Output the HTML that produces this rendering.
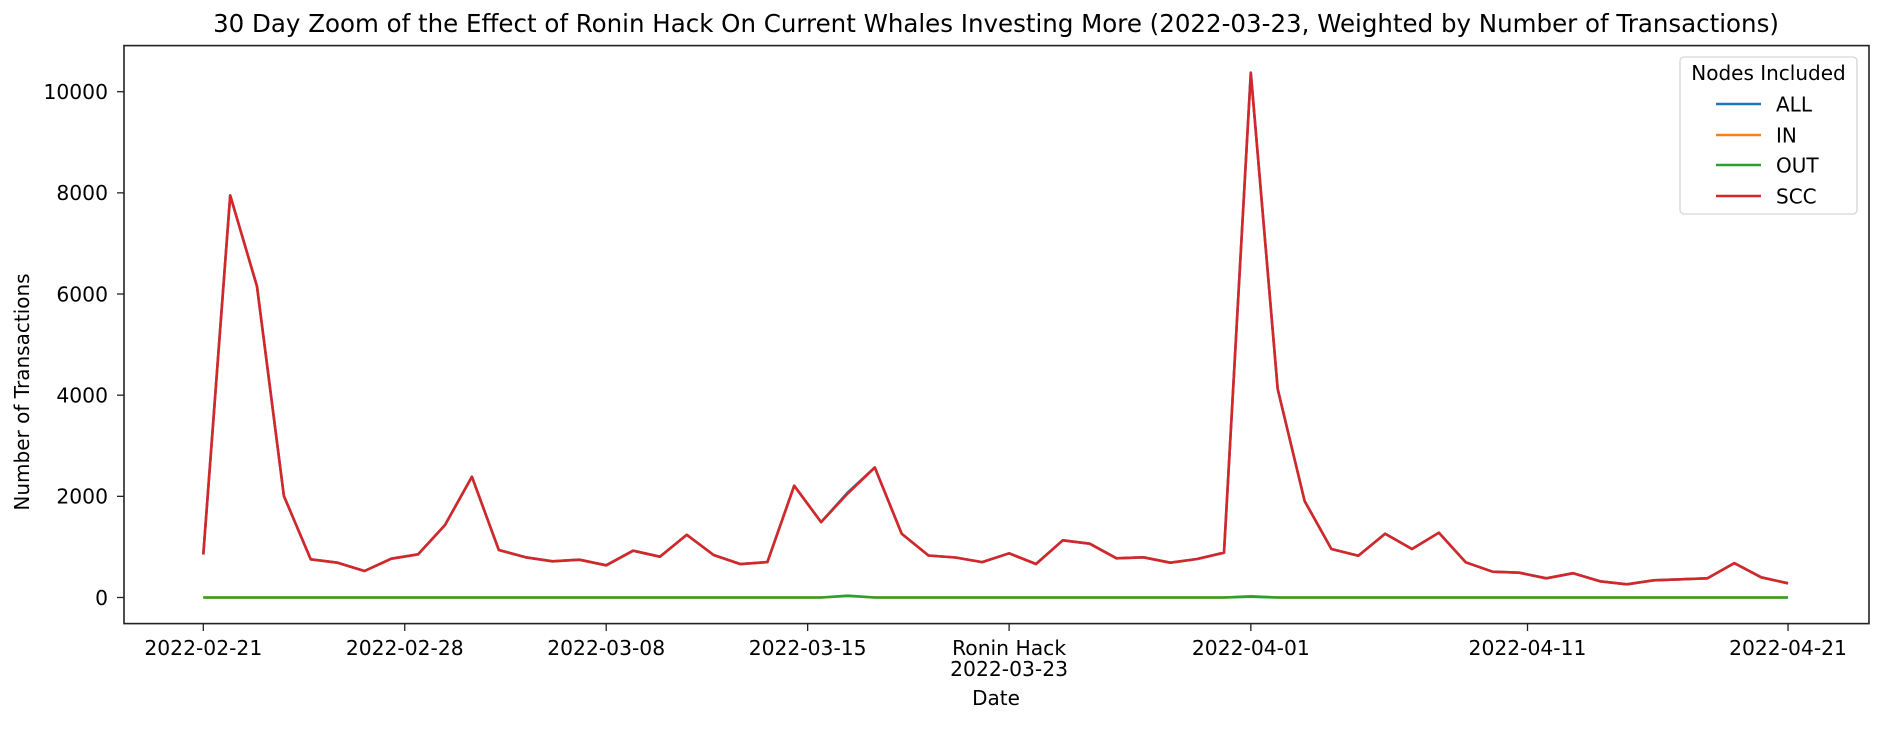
<!DOCTYPE html>
<html><head><meta charset="utf-8"><style>
body{margin:0;background:#fff;}
svg text{font-family:"DejaVu Sans","Liberation Sans",sans-serif;fill:#000;}
</style></head><body>
<svg id="chart" width="1882" height="725" xmlns="http://www.w3.org/2000/svg">
<rect width="1882" height="725" fill="#fff"/>
<text x="996" y="32" font-size="24.5" text-anchor="middle">30 Day Zoom of the Effect of Ronin Hack On Current Whales Investing More (2022-03-23, Weighted by Number of Transactions)</text>
<g id="grid"></g>
<g id="series"></g>
<rect x="124" y="45.6" width="1745" height="578" fill="none" stroke="#222" stroke-width="1.6"/>
<g id="axes"></g>
<text x="996" y="705" font-size="20" text-anchor="middle">Date</text>
<text transform="translate(29,392) rotate(-90)" font-size="20" text-anchor="middle">Number of Transactions</text>
<g>
<rect x="1680" y="57" width="177" height="157" rx="4" fill="#fff" stroke="#d6d6d6" stroke-width="1.3"/>
<text x="1768.5" y="80" font-size="20" text-anchor="middle">Nodes Included</text>
<g><line x1="1716" y1="104" x2="1761" y2="104" stroke="#1f77b4" stroke-width="2.6"/><text x="1776" y="111.5" font-size="20">ALL</text></g>
<g><line x1="1716" y1="135" x2="1761" y2="135" stroke="#ff7f0e" stroke-width="2.6"/><text x="1776" y="142.5" font-size="20">IN</text></g>
<g><line x1="1716" y1="165" x2="1761" y2="165" stroke="#2ca02c" stroke-width="2.6"/><text x="1776" y="172.5" font-size="20">OUT</text></g>
<g><line x1="1716" y1="196" x2="1761" y2="196" stroke="#d62728" stroke-width="2.6"/><text x="1776" y="203.5" font-size="20">SCC</text></g>
</g>
</svg>
<script>
const sccValues=[850,7950,6150,2007,755,688,524,767,854,1433,2388,939,795,716,748,636,925,807,1240,840,660,700,2210,1490,2060,2570,1260,830,790,700,873,662,1130,1064,775,795,688,761,886,10370,4120,1908,959,826,1261,959,1281,696,510,490,380,480,320,260,340,360,380,680,400,280];
const allValues=[850,7950,6150,2007,755,688,524,767,854,1433,2388,939,795,716,748,636,925,807,1240,840,660,700,2210,1490,2080,2570,1260,830,790,700,873,662,1130,1064,775,795,688,761,886,10380,4120,1908,959,826,1261,959,1281,696,510,490,380,480,320,260,340,360,380,680,400,280];
const inValues=[0,0,0,0,0,0,0,0,0,0,0,0,0,0,0,0,0,0,0,0,0,0,0,0,30,0,0,0,0,0,0,0,0,0,0,0,0,0,0,25,0,0,0,0,0,0,0,0,0,0,0,0,0,0,0,0,0,0,0,0];
const outValues=[0,0,0,0,0,0,0,0,0,0,0,0,0,0,0,0,0,0,0,0,0,0,0,0,35,0,0,0,0,0,0,0,0,0,0,0,0,0,0,15,0,0,0,0,0,0,0,0,0,0,0,0,0,0,0,0,0,0,0,0];
const xTickIndex=[0,7.5,15,22.5,30,39,49.3,59];
const xTickLabels=["2022-02-21","2022-02-28","2022-03-08","2022-03-15","Ronin Hack|2022-03-23","2022-04-01","2022-04-11","2022-04-21"];
const yTicks=[0,2000,4000,6000,8000,10000];
const NS="http://www.w3.org/2000/svg";
function xs(i){return 203.3+i*26.86;}
function ys(v){return 597.5-v*0.05058;}
const axes=document.getElementById('axes'),ser=document.getElementById('series');
function mk(tag,attrs,parent){const e=document.createElementNS(NS,tag);for(const k in attrs)e.setAttribute(k,attrs[k]);parent.appendChild(e);return e;}
yTicks.forEach(v=>{
  const t=mk('line',{x1:117,x2:124,y1:ys(v),y2:ys(v),stroke:'#222','stroke-width':1.3},axes);
  
  
  const l=mk('text',{x:108,y:ys(v)+7.3,'font-size':20.3,'text-anchor':'end'},axes);
  l.textContent=v;
  
  
});
xTickIndex.forEach((ix,k)=>{
  const x=xs(ix);
  const t=mk('line',{x1:x,x2:x,y1:624,y2:631,stroke:'#222','stroke-width':1.3},axes);
  
  
  const parts=xTickLabels[k].split('|');
  parts.forEach((p,j)=>{
    const l=mk('text',{x:x,y:655+j*21,'font-size':20.3,'text-anchor':'middle'},axes);
    l.textContent=p;
    
    
  });
});
function line(vals,color,name){
  const d=vals.map((v,i)=>(i?'L':'M')+xs(i).toFixed(1)+','+ys(v).toFixed(1)).join('');
  const p=mk('path',{d:d,fill:'none',stroke:color,'stroke-width':2.6,'stroke-linejoin':'round'},ser);
  
  
}
line(allValues,'#1f77b4','series-all');
line(inValues,'#ff7f0e','series-in');
line(outValues,'#2ca02c','series-out');
line(sccValues,'#d62728','series-scc');
</script>
</body></html>
